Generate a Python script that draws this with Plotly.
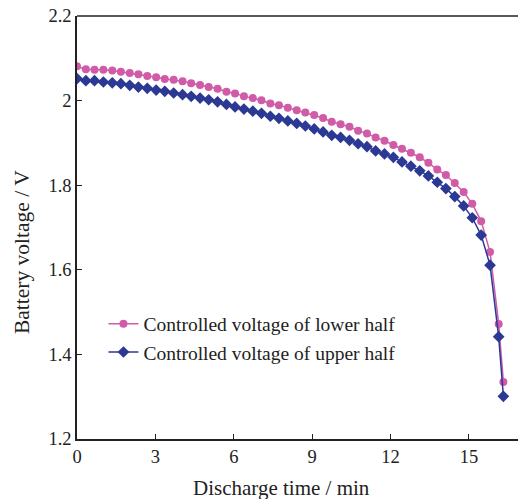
import plotly.graph_objects as go

# Discharge time (min) for each sample
time_min = [0.00, 0.34, 0.67, 1.01, 1.35, 1.68, 2.02, 2.35, 2.69, 3.03,
            3.36, 3.70, 4.04, 4.37, 4.71, 5.04, 5.38, 5.72, 6.05, 6.39,
            6.73, 7.06, 7.40, 7.73, 8.07, 8.41, 8.74, 9.08, 9.42, 9.75,
            10.09, 10.43, 10.76, 11.10, 11.43, 11.77, 12.11, 12.44, 12.78, 13.12,
            13.45, 13.79, 14.12, 14.46, 14.80, 15.13, 15.47, 15.81, 16.14, 16.32]

# Battery voltage (V), lower-half control
v_lower = [2.081, 2.074, 2.073, 2.073, 2.071, 2.068, 2.065, 2.062, 2.058, 2.055,
           2.051, 2.049, 2.046, 2.041, 2.037, 2.032, 2.028, 2.021, 2.017, 2.010,
           2.006, 2.001, 1.993, 1.989, 1.983, 1.977, 1.972, 1.966, 1.959, 1.950,
           1.944, 1.938, 1.929, 1.922, 1.913, 1.905, 1.895, 1.886, 1.877, 1.866,
           1.853, 1.837, 1.824, 1.805, 1.784, 1.756, 1.715, 1.642, 1.472, 1.335]

# Battery voltage (V), upper-half control
v_upper = [2.052, 2.047, 2.047, 2.044, 2.042, 2.040, 2.036, 2.032, 2.029, 2.025,
           2.022, 2.018, 2.014, 2.010, 2.006, 2.002, 1.997, 1.991, 1.985, 1.980,
           1.975, 1.970, 1.963, 1.958, 1.952, 1.946, 1.940, 1.933, 1.926, 1.918,
           1.913, 1.906, 1.898, 1.891, 1.881, 1.874, 1.866, 1.855, 1.845, 1.834,
           1.822, 1.807, 1.792, 1.773, 1.751, 1.723, 1.682, 1.611, 1.442, 1.301]

x_ticks = [0, 3, 6, 9, 12, 15]
y_ticks = [1.2, 1.4, 1.6, 1.8, 2.0, 2.2]
y_tick_text = ["1.2", "1.4", "1.6", "1.8", "2", "2.2"]

PINK = "#D05CA8"
BLUE = "#2B3894"
INK = "#222"
FONT = "Liberation Serif"

fig = go.Figure()
fig.add_trace(go.Scatter(
    x=time_min, y=v_lower, mode="lines+markers",
    name="Controlled voltage of lower half",
    line=dict(color=PINK, width=1.5),
    marker=dict(symbol="circle", size=8, color=PINK),
))
fig.add_trace(go.Scatter(
    x=time_min, y=v_upper, mode="lines+markers",
    name="Controlled voltage of upper half",
    line=dict(color=BLUE, width=1.5),
    marker=dict(symbol="diamond", size=9, color=BLUE),
))

axis_common = dict(
    showline=True, linecolor=INK, linewidth=1.5,
    ticks="inside", ticklen=5, tickwidth=1.2, tickcolor=INK,
    showgrid=False, zeroline=False,
    tickfont=dict(family=FONT, size=18.5, color=INK),
)

fig.update_xaxes(range=[0, 16.88], tickvals=x_ticks, **axis_common)
fig.update_yaxes(range=[1.2, 2.2], tickvals=y_ticks, ticktext=y_tick_text, **axis_common)

# axis titles placed as paper-anchored text
fig.add_annotation(
    text="Discharge time / min", xref="paper", yref="paper",
    x=0.463, y=-0.116, xanchor="center", yanchor="middle", showarrow=False,
    font=dict(family=FONT, size=21, color=INK),
)
fig.add_annotation(
    text="Battery voltage / V", xref="paper", yref="paper",
    x=-0.126, y=0.443, xanchor="center", yanchor="middle", showarrow=False,
    textangle=-90, font=dict(family=FONT, size=21.5, color=INK),
)

# top frame line across the plot area
fig.add_shape(type="line", xref="paper", yref="paper", x0=0, x1=1, y0=1, y1=1,
              line=dict(color=INK, width=1.5))

fig.update_layout(
    width=518, height=499,
    margin=dict(l=77, r=0, t=16, b=60),
    paper_bgcolor="white", plot_bgcolor="white",
    legend=dict(
        x=0.06, y=0.318, xanchor="left", yanchor="top",
        font=dict(family=FONT, size=19.5, color=INK),
        bgcolor="rgba(0,0,0,0)", tracegroupgap=0,
    ),
    showlegend=True,
)

fig.write_html("out.html")
